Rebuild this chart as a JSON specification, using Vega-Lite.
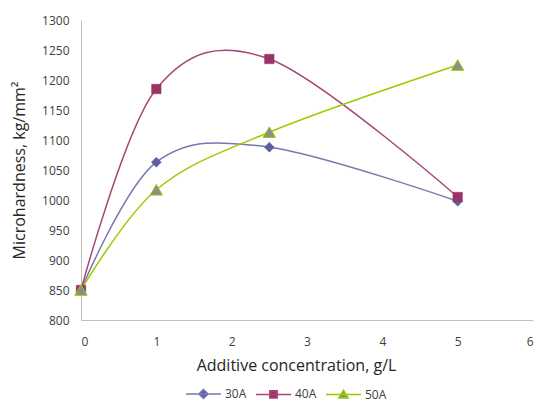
{
  "$schema": "https://vega.github.io/schema/vega-lite/v6.json",
  "autosize": "none",
  "width": 452,
  "height": 300,
  "padding": {"left": 81, "top": 20, "right": 6, "bottom": 83},
  "background": "white",
  "config": {
    "font": "Open Sans",
    "view": {"stroke": null},
    "axis": {"grid": false, "ticks": false, "domainColor": "#bfbfbf", "domainWidth": 1, "labelColor": "#404040", "labelFont": "Open Sans", "labelFontSize": 12, "titleFont": "Open Sans", "titleFontWeight": "normal", "titleColor": "#262626", "titleFontSize": 16},
    "legend": {
      "orient": "none", "legendX": 104, "legendY": 355, "direction": "horizontal", "title": null, "symbolSize": 1225, "symbolStrokeWidth": 1.5, "symbolOpacity": 1,
      "labelFontSize": 12, "labelColor": "#404040", "labelFont": "Open Sans", "labelOffset": 3, "columnPadding": 6
    }
  },
  "data": {
    "values": [
      {"c": 0, "h": 850, "s": "30A"},
      {"c": 1, "h": 1063, "s": "30A"},
      {"c": 2.5, "h": 1088, "s": "30A"},
      {"c": 5, "h": 998, "s": "30A"},
      {"c": 0, "h": 850, "s": "40A"},
      {"c": 1, "h": 1185, "s": "40A"},
      {"c": 2.5, "h": 1235, "s": "40A"},
      {"c": 5, "h": 1005, "s": "40A"},
      {"c": 0, "h": 850, "s": "50A"},
      {"c": 1, "h": 1017, "s": "50A"},
      {"c": 2.5, "h": 1113, "s": "50A"},
      {"c": 5, "h": 1225, "s": "50A"}
    ]
  },
  "encoding": {
    "x": {"field": "c", "type": "quantitative", "scale": {"domain": [0, 6], "nice": false}, "axis": {"values": [0,1,2,3,4,5,6], "labelPadding": 16, "title": "Additive concentration, g/L", "titlePadding": 10, "titleX": 215}},
    "y": {"field": "h", "type": "quantitative", "scale": {"domain": [800, 1300], "nice": false, "zero": false}, "axis": {"values": [800,850,900,950,1000,1050,1100,1150,1200,1250,1300], "format": "d", "labelPadding": 12, "title": "Microhardness, kg/mm²", "titlePadding": 14}}
  },
  "layer": [
    {
      "mark": {"type": "line", "interpolate": "cardinal", "strokeWidth": 1.5},
      "encoding": {
        "color": {"field": "s", "type": "nominal", "title": null, "scale": {"domain": ["30A", "40A", "50A"], "range": ["#7878b0", "#a8457a", "#99cc00"]}}
      }
    },
    {
      "transform": [{"filter": "datum.s === '30A'"}],
      "mark": {"type": "point", "shape": "diamond", "filled": true, "opacity": 1, "size": 100, "fill": "#5f5f9f", "stroke": "#5f5f9f", "strokeWidth": 0.5}
    },
    {
      "transform": [{"filter": "datum.s === '40A'"}],
      "mark": {"type": "point", "shape": "square", "filled": true, "opacity": 1, "size": 90, "fill": "#993366", "stroke": "#993366", "strokeWidth": 0.5}
    },
    {
      "transform": [{"filter": "datum.s === '50A'"}],
      "mark": {"type": "point", "shape": "triangle-up", "filled": true, "opacity": 1, "size": 150, "fill": "#8c8c8c", "stroke": "#99cc00", "strokeWidth": 1}
    },
    {
      "transform": [{"filter": "datum.c < 0"}],
      "mark": {"type": "point", "filled": true, "opacity": 1},
      "encoding": {
        "shape": {"field": "s", "type": "nominal", "title": null, "scale": {"domain": ["30A", "40A", "50A"], "range": ["M-1,0H1M0,-0.26L0.26,0L0,0.26L-0.26,0Z", "M-1,0H1M-0.21,-0.21H0.21V0.21H-0.21Z", "M-1,0H1M0,-0.25L0.27,0.2H-0.27Z"]}},
        "fill": {"field": "s", "type": "nominal", "title": null, "scale": {"domain": ["30A", "40A", "50A"], "range": ["#5f5f9f", "#993366", "#8c8c8c"]}}
      }
    }
  ]
}
